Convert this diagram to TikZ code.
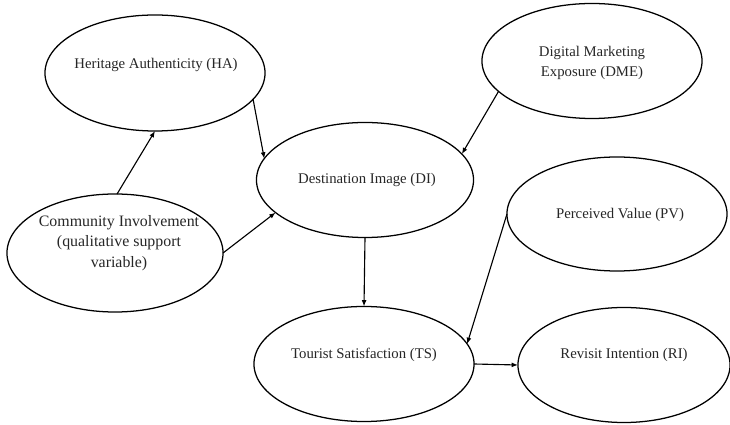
\documentclass[tikz,border=0pt]{standalone}
\usepackage{fontspec}
\setmainfont{Liberation Serif}
\usetikzlibrary{shapes.geometric,arrows.meta}
\tikzset{
  var/.style={draw, ellipse, line width=0.9pt, inner sep=0pt, outer sep=0pt,
    minimum width=5.5cm, minimum height=2.875cm},
  lbl/.style={align=center, font=\fontsize{10.5}{14.5}\selectfont, text=black!85},
  link/.style={-{Latex[length=4.5pt,width=3.5pt]}, line width=0.8pt},
}
\begin{document}
\begin{tikzpicture}[x=0.025cm, y=-0.025cm]
	\useasboundingbox (0,0) rectangle (730,425);
	% constructs
	\node[var, minimum height=2.9cm] (HA) at (155,73) {};
	\node[var] (DME) at (592,61) {};
	\node[var, minimum width=5.425cm] (DI) at (365,180) {};
	\node[var, minimum width=5.4cm, minimum height=2.95cm] (CI) at (115,253) {};
	\node[var, minimum height=2.85cm] (PV) at (617,214) {};
	\node[var] (TS) at (364,364) {};
	\node[var, minimum width=5.3cm] (RI) at (624,365) {};
	% labels
	\node[lbl] (HAt) at (156,65) {Heritage Authenticity (HA)};
	\node[lbl] (DMEt) at (592,63) {Digital Marketing\\Exposure (DME)};
	\node[lbl] (DIt) at (367,180) {Destination Image (DI)};
	\node[lbl, font=\fontsize{11.3}{14.5}\selectfont] (CIt) at (119,243) {Community Involvement\\(qualitative support\\variable)};
	\node[lbl] (PVt) at (620,215) {Perceived Value (PV)};
	\node[lbl] (TSt) at (364,355) {Tourist Satisfaction (TS)};
	\node[lbl] (RIt) at (624,355) {Revisit Intention (RI)};
	% paths
	\draw[link] (CI.88) -- (HA.-90);
	\draw[link] (HA.-15) -- (DI.168);
	\draw[link] (CI.east) -- (DI.200);
	\draw[link] (DME.198) -- (DI.15);
	\draw[link] (DI.south) -- (TS.north);
	\draw[link] (PV.west) -- (TS.11);
	\draw[link] (TS.east) -- (RI.west);
\end{tikzpicture}
\end{document}
